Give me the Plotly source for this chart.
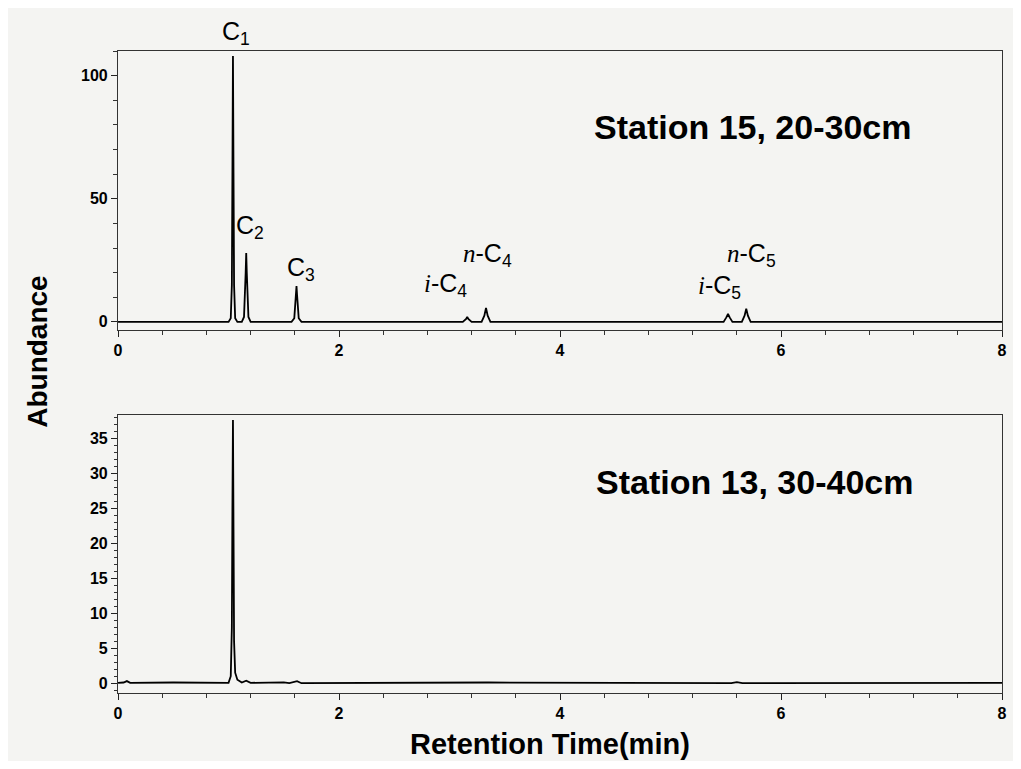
import plotly.graph_objects as go

# ---- data ----
top_time = [0, 1.00, 1.02, 1.03, 1.035, 1.04, 1.045, 1.05, 1.06, 1.08,
            1.12, 1.14, 1.155, 1.16, 1.165, 1.18, 1.20,
            1.57, 1.595, 1.61, 1.615, 1.62, 1.635, 1.66,
            3.12, 3.15, 3.16, 3.17, 3.20,
            3.29, 3.315, 3.33, 3.345, 3.37,
            5.48, 5.505, 5.52, 5.535, 5.56,
            5.645, 5.67, 5.685, 5.70, 5.725, 8.0]
top_abund = [0, 0, 1.5, 15, 60, 108, 60, 15, 1.5, 0,
             0, 2, 20, 28, 20, 2, 0,
             0, 1.5, 11, 14.5, 11, 1.5, 0,
             0, 1.2, 2, 1.2, 0,
             0, 2.5, 5.7, 2.5, 0,
             0, 1.8, 3.2, 1.8, 0,
             0, 2.5, 5.3, 2.5, 0, 0]

bot_time = [0, 0.05, 0.08, 0.11, 0.5, 1.00, 1.02, 1.03, 1.035, 1.04, 1.045, 1.05,
            1.06, 1.08, 1.12, 1.16, 1.20, 1.45, 1.5, 1.55, 1.62, 1.66, 3.3, 3.35,
            5.55, 5.6, 5.65, 7.0, 7.4, 7.6, 8.0]
bot_abund = [0.05, 0.1, 0.3, 0.05, 0.1, 0.05, 1.0, 8, 25, 37.6, 22, 6,
             1.5, 0.5, 0.1, 0.35, 0.05, 0.05, 0.12, 0.0, 0.3, 0.0, 0.05, 0.1,
             0.0, 0.15, 0.0, 0.0, 0.08, 0.05, 0.05]

peak_labels = ["C<sub>1</sub>", "C<sub>2</sub>", "C<sub>3</sub>",
               "<span style='font-family:Liberation Serif'><i>i</i></span>-C<sub>4</sub>",
               "<span style='font-family:Liberation Serif'><i>n</i></span>-C<sub>4</sub>",
               "<span style='font-family:Liberation Serif'><i>i</i></span>-C<sub>5</sub>",
               "<span style='font-family:Liberation Serif'><i>n</i></span>-C<sub>5</sub>"]
label_x = [1.07, 1.19, 1.66, 2.96, 3.34, 5.44, 5.73]
label_y = [117.5, 38.5, 21.5, 15, 27, 14, 27]

panel_titles = ["Station 15, 20-30cm", "Station 13, 30-40cm"]
x_ticks = [0, 2, 4, 6, 8]

# figure is placed at an 8 px page offset; reference pixels are converted
OFF = 8
W, H = 1005, 753
def px_x(p): return (p - OFF) / W
def px_y(p): return 1 - (p - OFF) / H

Y1_TOP, Y1_BOT = 51, 330
Y1_RANGE = [-3.3, 110]

fig = go.Figure()
fig.add_trace(go.Scatter(x=top_time, y=top_abund, mode="lines",
                         line=dict(color="black", width=1.8), xaxis="x", yaxis="y",
                         showlegend=False))
fig.add_trace(go.Scatter(x=bot_time, y=bot_abund, mode="lines",
                         line=dict(color="black", width=1.8), xaxis="x2", yaxis="y2",
                         showlegend=False))

tickfont = dict(family="Liberation Sans, Arial", size=16, color="black", weight="bold")
common_x = dict(range=[0, 8], tickvals=x_ticks, ticks="outside", ticklen=6,
                tickwidth=1.3, tickcolor="#222", showline=True, linecolor="#333",
                linewidth=1.3, mirror=True, showgrid=False, zeroline=False,
                tickfont=tickfont,
                minor=dict(dtick=0.4, ticks="outside", ticklen=4, tickcolor="#333"))
common_y = dict(ticks="outside", ticklen=6, tickwidth=1.3, tickcolor="#222",
                showline=True, linecolor="#333", linewidth=1.3, mirror=True,
                showgrid=False, zeroline=False, tickfont=tickfont)

XL, XR = 115, 1007
fig.update_layout(
    width=W, height=H, margin=dict(l=0, r=0, t=0, b=0),
    paper_bgcolor="#f4f4f2", plot_bgcolor="#f4f4f2",
    font=dict(family="Liberation Sans, Arial", color="black"),
    xaxis=dict(domain=[px_x(XL), px_x(XR)], anchor="y", **common_x),
    yaxis=dict(domain=[px_y(Y1_BOT), px_y(Y1_TOP)], anchor="x", range=Y1_RANGE,
               tickvals=[0, 50, 100],
               minor=dict(dtick=10, ticks="outside", ticklen=4, tickcolor="#333"),
               **common_y),
    xaxis2=dict(domain=[px_x(XL), px_x(XR)], anchor="y2", **common_x),
    yaxis2=dict(domain=[px_y(693), px_y(415)], anchor="x2", range=[-1.4, 38.3],
                tickvals=[0, 5, 10, 15, 20, 25, 30, 35],
                minor=dict(dtick=1, ticks="outside", ticklen=3, tickcolor="#333"),
                **common_y),
)

label_font = dict(family="Liberation Sans, Arial", size=25, color="black")
for lab, lx, ly in zip(peak_labels, label_x, label_y):
    # axis-domain fractions for y so labels above the plot range are still drawn
    yfrac = (ly - Y1_RANGE[0]) / (Y1_RANGE[1] - Y1_RANGE[0])
    fig.add_annotation(x=lx, y=yfrac, xref="x", yref="y domain", text=lab,
                       xanchor="center", yanchor="middle",
                       showarrow=False, font=label_font)

title_font = dict(family="Liberation Sans, Arial", size=34, color="black")
def paper_text(x, y, text, font, angle=0, yanchor="middle"):
    fig.add_annotation(x=px_x(x), y=px_y(y), xref="paper", yref="paper",
                       text=text, showarrow=False, textangle=angle, borderpad=0,
                       xanchor="center", yanchor=yanchor, font=font)

paper_text(755, 127, "<b>" + panel_titles[0] + "</b>", title_font)
paper_text(757, 482, "<b>" + panel_titles[1] + "</b>", title_font)
paper_text(33, 352, "<b>Abundance</b>",
           dict(family="Liberation Sans, Arial", size=28, color="black"), angle=-90)
paper_text(551, 761, "<b>Retention Time(min)</b>",
           dict(family="Liberation Sans, Arial", size=29, color="black"), yanchor="bottom")

fig.write_html("out.html")
